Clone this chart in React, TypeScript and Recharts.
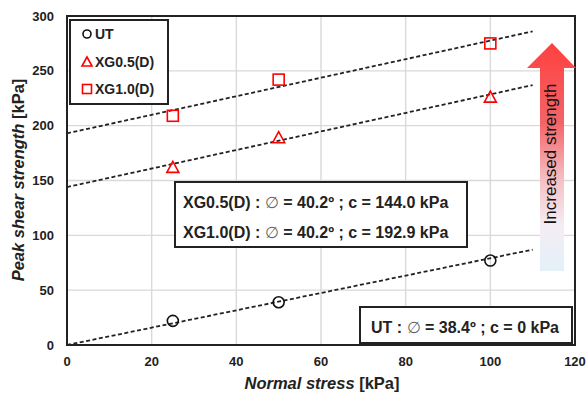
import React from 'react';
import {
  ComposedChart, Line, Scatter, XAxis, YAxis, CartesianGrid, ReferenceArea,
} from 'recharts';

// measured points
const sigma = [25, 50, 100];
const utTau = [22, 39, 77];
const xg05Tau = [162, 189, 226];
const xg10Tau = [209, 242, 275];

// fitted failure envelopes (end points)
const fitSigma = [0, 110];
const utFit = [0, 87];
const xg05Fit = [144, 237];
const xg10Fit = [193, 286];

const xTicks = [0, 20, 40, 60, 80, 100, 120];
const yTicks = [0, 50, 100, 150, 200, 250, 300];

const legendItems = ['UT', 'XG0.5(D)', 'XG1.0(D)'];

const toPts = (xs: number[], ys: number[]) => xs.map((x, i) => ({ x, y: ys[i] }));

const FONT = 'Arial, "Liberation Sans", sans-serif';
const RED = '#ff0000';

const CircleMark = (p: any) => (
  <circle cx={p.cx} cy={p.cy} r={5.5} fill="none" stroke="#111" strokeWidth={1.6} />
);
const TriMark = (p: any) => (
  <polygon
    points={`${p.cx},${p.cy - 6} ${p.cx - 6},${p.cy + 5} ${p.cx + 6},${p.cy + 5}`}
    fill="none" stroke={RED} strokeWidth={1.6}
  />
);
const SquareMark = (p: any) => (
  <rect x={p.cx - 5.5} y={p.cy - 5.5} width={11} height={11} fill="none" stroke={RED} strokeWidth={1.6} />
);

const tickStyle = { fontFamily: FONT, fontSize: 13, fontWeight: 700, fill: '#222' };
const fitLine = { stroke: '#222', strokeWidth: 1.8, strokeDasharray: '4 2.5', dot: false, isAnimationActive: false };

export default function App() {
  return (
    <div style={{ position: 'absolute', left: 0, top: 0, width: 587, height: 394, background: '#fff' }}>
      <ComposedChart
        width={587}
        height={394}
        margin={{ top: 16, right: 12, bottom: 19, left: 27 }}
      >
        <CartesianGrid stroke="#d9d9d9" strokeWidth={1.4} />
        <XAxis
          type="number"
          dataKey="x"
          domain={[0, 120]}
          ticks={xTicks}
          tick={tickStyle}
          tickSize={0}
          tickMargin={12}
          axisLine={false}
          height={30}
          allowDataOverflow
        />
        <YAxis
          type="number"
          dataKey="y"
          domain={[0, 300]}
          ticks={yTicks}
          tick={tickStyle}
          tickSize={0}
          tickMargin={13}
          axisLine={false}
          width={40}
          allowDataOverflow
        />
        <ReferenceArea x1={0} x2={120} y1={0} y2={300} fill="none" stroke="#222" strokeWidth={2} />
        <Line data={toPts(fitSigma, utFit)} dataKey="y" {...fitLine} />
        <Line data={toPts(fitSigma, xg05Fit)} dataKey="y" {...fitLine} />
        <Line data={toPts(fitSigma, xg10Fit)} dataKey="y" {...fitLine} />
        <Scatter data={toPts(sigma, utTau)} dataKey="y" shape={CircleMark} isAnimationActive={false} />
        <Scatter data={toPts(sigma, xg05Tau)} dataKey="y" shape={TriMark} isAnimationActive={false} />
        <Scatter data={toPts(sigma, xg10Tau)} dataKey="y" shape={SquareMark} isAnimationActive={false} />
      </ComposedChart>

      {/* overlay: legend, annotation boxes, arrow, axis titles */}
      <svg width={587} height={394} style={{ position: 'absolute', left: 0, top: 0, pointerEvents: 'none' }}>
        <defs>
          <linearGradient id="arrowGrad" x1="0" y1="0" x2="0" y2="1">
            <stop offset="0" stopColor="#ff4040" />
            <stop offset="0.35" stopColor="#f36467" />
            <stop offset="0.6" stopColor="#f5c0c6" />
            <stop offset="0.8" stopColor="#f4edf3" />
            <stop offset="1" stopColor="#e4f0f8" />
          </linearGradient>
        </defs>

        {/* legend */}
        <rect x={70} y={20} width={98} height={84} fill="#fff" stroke="#222" strokeWidth={2} />
        <circle cx={87} cy={34} r={4} fill="none" stroke="#111" strokeWidth={1.6} />
        <polygon points="87,57 82,66 92,66" fill="none" stroke={RED} strokeWidth={1.6} />
        <rect x={82.5} y={84.5} width={9} height={9} fill="none" stroke={RED} strokeWidth={1.6} />
        {legendItems.map((t, i) => (
          <text key={t} x={95} y={[34, 62, 89][i]} dy="0.36em" fontFamily={FONT} fontSize={14} fontWeight={700} fill="#222">{t}</text>
        ))}

        {/* XG annotations */}
        <rect x={175} y={182} width={292} height={65} fill="#fff" stroke="#222" strokeWidth={2} />
        <text x={183} y={202} dy="0.36em" fontFamily={FONT} fontSize={16} fontWeight={700} fill="#222">
          XG0.5(D) : <tspan fontWeight={400} fill="#666">∅</tspan> = 40.2º ; c = 144.0 kPa
        </text>
        <text x={183} y={232} dy="0.36em" fontFamily={FONT} fontSize={16} fontWeight={700} fill="#222">
          XG1.0(D) : <tspan fontWeight={400} fill="#666">∅</tspan> = 40.2º ; c = 192.9 kPa
        </text>

        {/* UT annotation */}
        <rect x={360} y={307} width={212} height={36} fill="#fff" stroke="#222" strokeWidth={2} />
        <text x={465} y={327} dy="0.36em" textAnchor="middle" fontFamily={FONT} fontSize={16} fontWeight={700} fill="#222">
          UT : <tspan fontWeight={400} fill="#666">∅</tspan> = 38.4º ; c = 0 kPa
        </text>

        {/* increased strength arrow */}
        <polygon points="552,43 576,68 564,68 564,271 540,271 540,68 527,68" fill="url(#arrowGrad)" />
        <text
          x={550} y={154} dy="0.36em" textAnchor="middle"
          transform="rotate(-90 550 154)"
          fontFamily={FONT} fontSize={17} fill="#111"
        >
          Increased strength
        </text>

        {/* axis titles */}
        <text x={322} y={383} dy="0.36em" textAnchor="middle" fontFamily={FONT} fontSize={16.5} fontWeight={700} fill="#222">
          <tspan fontStyle="italic">Normal stress</tspan> [kPa]
        </text>
        <text
          x={18} y={180} dy="0.36em" textAnchor="middle"
          transform="rotate(-90 18 180)"
          fontFamily={FONT} fontSize={16.5} fontWeight={700} fill="#222"
        >
          <tspan fontStyle="italic">Peak shear strength</tspan> [kPa]
        </text>
      </svg>
    </div>
  );
}
